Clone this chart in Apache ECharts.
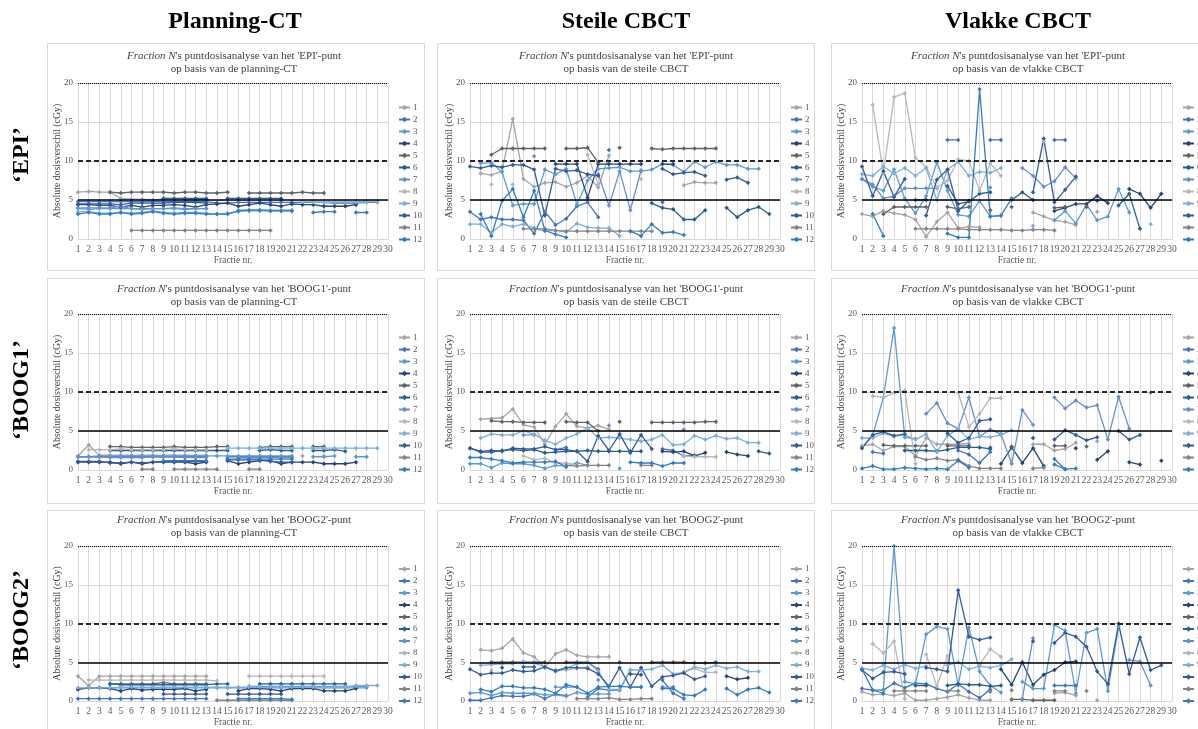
<!DOCTYPE html>
<html><head><meta charset="utf-8">
<script src="https://cdn.jsdelivr.net/npm/echarts@6/dist/echarts.min.js"></script>
<style>html,body{margin:0;padding:0;background:#fff;overflow:hidden}#c{width:1198px;height:729px}</style>
</head><body><div id="c"></div><script>
const _ = null;
const fractions = ['1','2','3','4','5','6','7','8','9','10','11','12','13','14','15','16','17','18','19','20','21','22','23','24','25','26','27','28','29','30'];
const seriesNames = ['1','2','3','4','5','6','7','8','9','10','11','12'];
const refLines = [5, 10, 20];
const columnTitles = ['Planning-CT', 'Steile CBCT', 'Vlakke CBCT'];
const rowTitles = ['\u2018EPI\u2019', '\u2018BOOG1\u2019', '\u2018BOOG2\u2019'];
const pointNames = ["'EPI'", "'BOOG1'", "'BOOG2'"];
const basisNames = ['planning-CT', 'steile CBCT', 'vlakke CBCT'];

const EPI_PLAN = [
 [6.0,6.1,6.0,6.0,5.2, 5.1,5.1,5.0,5.1,5.1, 5.1,5.0,5.1,_,_, _,_,_,_,_, _,_,_,_,_, _,_,_,_,_],
 [4.8,4.8,4.8,4.8,4.8, 4.8,4.8,4.8,4.8,4.8, 4.8,4.8,4.8,4.6,4.6, 4.7,4.7,4.7,4.7,4.7, 4.7,4.7,4.7,4.7,4.6, 4.6,4.6,4.7,4.7,_],
 [3.9,3.8,3.9,3.9,3.9, 3.9,3.8,3.9,3.9,3.9, 3.8,3.9,3.9,_,_, 3.7,3.7,3.7,3.7,3.7, 3.7,_,_,_,_, _,_,_,_,_],
 [4.4,4.4,4.3,4.3,4.1, 4.3,4.1,4.3,4.3,4.4, 4.3,4.1,4.4,4.5,4.6, 4.2,4.4,4.6,4.4,4.2, 4.5,4.4,4.4,4.2,4.2, 4.2,4.4,_,_,_],
 [_,_,_,6.0,5.9, 6.0,6.0,6.0,6.0,5.9, 6.0,6.0,5.9,5.9,6.0, _,5.9,5.9,5.9,5.9, 5.9,6.0,5.9,5.9,_, _,_,_,_,_],
 [_,_,_,_,_, _,_,_,5.2,5.2, 5.2,5.2,5.2,_,5.2, 5.2,5.2,5.2,5.2,5.2, _,_,_,_,_, _,_,_,_,_],
 [4.0,4.0,4.0,4.0,4.2, 3.9,3.9,3.9,3.9,4.0, 3.9,3.9,3.9,_,_, _,_,_,_,_, _,_,_,_,_, _,_,_,_,_],
 [_,_,_,_,_, _,_,_,_,_, _,_,_,_,_, _,_,_,_,_, _,4.8,4.8,4.8,4.8, 4.8,4.8,4.8,4.8,_],
 [3.5,3.5,3.3,3.3,3.4, 3.3,3.4,3.6,3.4,3.3, 3.4,3.4,3.3,3.2,3.3, 3.5,3.6,3.6,3.6,3.6, 3.6,_,4.7,4.7,4.7, 4.7,4.7,4.8,4.8,_],
 [4.5,4.5,4.5,4.5,4.4, 4.6,4.6,4.6,4.6,4.7, 4.7,4.7,4.6,_,_, _,_,_,_,_, _,_,_,_,_, _,_,_,_,_],
 [_,_,_,_,_, 1.1,1.1,1.1,1.1,1.1, 1.1,1.1,1.1,1.1,1.1, 1.1,1.1,1.1,1.1,_, _,_,_,_,_, _,_,_,_,_],
 [3.2,3.4,3.2,3.2,3.4, 3.2,3.3,3.5,3.3,3.2, 3.3,3.3,3.2,3.2,3.2, 3.6,3.7,3.7,3.6,3.6, 3.6,_,3.4,3.5,3.5, _,3.4,3.4,_,_]
];
const EPI_STEIL = [
 [_,8.4,8.2,8.7,15.4, 7.7,6.7,7.2,7.3,6.7, 7.2,8.1,6.6,10.7,_, _,_,_,_,_, 6.9,7.3,7.2,7.2,_, _,_,_,_,_],
 [3.5,2.5,2.8,2.5,2.5, 2.4,0.7,3.5,1.8,2.6, 4.2,4.7,2.8,_,_, _,_,_,4.7,_, _,_,_,_,_, _,_,_,_,_],
 [_,9.7,9.8,8.6,4.3, 4.5,4.5,8.9,8.3,9.0, 4.4,7.5,9.0,9.1,9.2, 8.7,8.7,8.9,9.6,9.5, 8.6,9.9,9.2,9.9,9.5, 9.5,9.0,9.0,_,_],
 [_,_,_,_,_, _,_,_,9.6,9.6, 9.6,5.3,9.6,9.6,9.6, 9.6,9.6,_,9.6,9.6, _,_,_,_,_, _,_,_,_,_],
 [_,_,10.8,11.6,11.6, 11.6,11.6,11.6,_,11.6, 11.6,11.7,9.8,_,11.7, _,_,11.6,11.5,11.6, 11.6,11.6,11.6,11.6,_, _,_,_,_,_],
 [_,_,_,_,_, _,_,_,_,_, _,_,_,_,_, _,_,4.6,4.0,3.8, 2.5,2.5,3.7,_,4.0, 2.8,3.7,4.1,3.2,_],
 [_,_,_,_,_, _,10.6,_,_,_, _,_,8.3,4.3,8.7, 3.7,8.8,_,_,_, _,_,_,_,_, _,_,_,_,_],
 [_,_,7.0,_,7.0, _,_,_,_,_, _,10.8,7.0,_,_, _,7.7,_,_,_, _,_,_,_,_, _,_,_,_,_],
 [1.9,1.9,0.8,1.9,1.6, 1.9,1.4,1.0,1.1,0.9, 2.0,1.5,1.4,1.4,0.4, _,_,_,_,_, _,_,_,_,_, _,_,_,_,_],
 [9.3,9.1,9.4,9.2,9.5, 9.5,8.9,3.0,9.0,8.7, 8.8,8.3,8.1,_,_, _,_,_,9.0,8.3, 8.5,8.6,8.1,_,7.6, 7.9,7.2,_,_,_],
 [_,_,_,_,_, 1.3,1.3,1.3,1.1,1.0, 1.0,1.0,1.0,1.0,1.0, 1.0,1.0,1.0,_,_, _,_,_,_,_, _,_,_,_,_],
 [_,3.2,0.4,4.9,6.4, 2.8,6.2,1.1,0.6,0.2, _,_,_,11.4,_, 1.0,0.4,1.9,0.8,0.9, 0.5,_,_,_,_, _,_,_,_,_]
];
const EPI_VLAK = [
 [3.2,2.9,3.6,3.3,3.1, 2.5,0.3,2.2,3.4,1.4, 1.6,1.5,_,_,_, _,3.4,2.9,2.4,2.2, 1.8,_,3.5,_,_, _,_,_,_,_],
 [_,_,_,_,_, _,_,_,12.7,12.7, _,_,12.7,12.7,_, _,_,_,12.7,12.7, _,_,_,_,_, _,_,_,_,_],
 [7.7,6.7,6.2,8.9,5.2, 3.3,5.5,9.8,6.2,3.1, 2.9,4.9,2.9,3.0,_, _,_,_,2.4,3.6, 2.0,4.4,2.4,2.9,6.4, 3.4,_,_,_,_],
 [_,_,_,_,_, _,_,_,_,_, _,_,_,_,_, _,_,_,3.6,4.0, 4.5,4.5,5.5,4.6,_, 6.4,5.8,4.0,5.8,_],
 [_,_,3.2,4.1,4.1, 4.1,4.1,_,4.1,3.9, 4.1,_,3.7,_,4.1, _,_,_,4.0,4.1, _,4.1,_,_,_, _,_,_,_,_],
 [_,_,_,_,_, 5.0,5.0,_,6.8,4.5, 4.8,5.8,6.0,_,5.0, 6.0,5.0,_,_,_, _,_,4.9,_,4.3, 5.8,1.3,_,_,_],
 [7.7,7.0,5.2,5.5,6.5, 6.5,6.5,6.5,_,_, _,_,6.6,_,_, 9.1,8.1,6.7,7.4,9.2, 7.8,_,_,_,_, _,_,_,_,_],
 [_,17.2,8.5,18.2,18.7, 10.4,9.2,6.6,7.5,10.2, 10.0,6.2,9.7,8.1,_, _,_,12.5,_,_, _,_,_,_,_, _,_,_,_,_],
 [8.3,8.1,9.3,8.4,9.1, 8.1,9.1,5.0,8.9,9.9, 8.1,8.6,8.5,9.1,_, _,1.7,_,_,_, _,_,_,_,_, _,_,1.9,_,_],
 [9.3,5.5,8.7,5.4,7.7, _,3.0,7.6,8.9,3.6, 4.9,_,_,_,_, _,6.0,12.9,4.7,6.3, 8.0,_,_,_,_, _,_,_,_,_],
 [_,_,_,_,_, 1.3,1.3,1.3,1.3,1.3, 1.2,1.2,1.2,1.2,1.1, 1.1,1.2,1.2,1.1,_, _,_,_,_,_, _,_,_,_,_],
 [_,3.2,0.4,_,_, _,_,_,0.7,0.2, 0.2,19.2,2.9,3.0,5.2, _,_,_,_,_, _,_,_,_,_, _,_,_,_,_]
];
const BOOG1_PLAN = [
 [1.8,3.2,1.9,1.9,1.9, 1.9,1.9,1.9,1.9,1.9, 1.9,1.9,1.9,_,_, _,_,_,_,_, _,1.8,_,1.8,_, _,_,_,_,_],
 [1.7,1.7,1.7,1.7,1.7, 1.7,1.7,1.7,1.7,1.7, 1.7,1.7,1.7,_,1.7, 1.7,1.7,1.7,1.7,1.7, 1.7,_,_,_,_, _,_,_,_,_],
 [1.7,1.7,1.8,1.8,1.8, 1.8,1.8,1.8,1.8,1.8, 1.8,1.8,1.8,1.8,1.8, 1.8,1.8,1.8,1.8,1.8, 1.8,_,1.7,1.7,1.8, _,1.7,1.7,_,_],
 [1.0,1.0,1.0,1.0,0.8, 1.0,0.8,1.0,1.0,1.0, 1.0,0.8,1.0,_,1.2, 0.8,1.0,1.2,1.2,0.8, 1.0,1.0,1.0,0.8,0.8, 0.8,1.0,_,_,_],
 [_,_,_,3.0,3.0, 2.9,2.9,2.9,2.9,3.0, 2.9,2.9,2.9,3.0,3.0, _,_,2.9,3.0,3.0, 3.0,_,3.0,3.0,_, _,_,_,_,_],
 [_,_,_,2.5,2.5, 2.5,2.5,2.5,2.5,2.5, 2.5,2.5,2.5,2.5,2.5, _,_,2.5,2.6,2.5, 2.5,_,2.5,2.5,2.6, 2.4,_,_,_,_],
 [1.7,1.7,1.7,1.6,1.6, 1.6,1.6,1.7,1.7,1.7, 1.6,1.6,1.6,_,_, 1.6,1.6,1.6,1.6,1.6, 1.6,_,_,_,_, _,_,_,_,_],
 [_,2.6,2.6,2.6,2.7, 2.6,2.6,2.6,2.6,2.7, 2.6,2.6,2.6,_,_, _,_,_,_,_, _,2.8,_,_,_, _,_,_,_,_],
 [_,_,_,_,_, _,_,_,_,_, _,_,_,_,2.8, 2.8,2.8,2.8,2.8,2.8, 2.8,2.8,2.8,2.8,2.8, 2.8,2.8,2.8,2.8,_],
 [1.1,1.1,1.1,0.9,0.9, 1.0,0.9,1.0,1.1,1.1, 1.1,1.1,1.1,_,1.3, 1.3,1.3,1.3,1.1,1.0, 1.0,_,_,_,_, _,_,_,_,_],
 [_,_,_,_,_, _,0.1,0.1,_,0.1, 0.1,0.1,0.1,0.1,_, _,0.1,0.1,_,_, _,_,_,_,_, _,_,_,_,_],
 [_,_,_,_,_, _,_,_,1.2,1.2, 1.2,1.2,1.2,_,1.4, 1.4,1.4,1.4,1.4,1.4, 1.4,_,_,_,_, _,_,_,_,_]
];
const BOOG1_STEIL = [
 [_,6.5,6.6,6.7,7.8, 5.8,5.5,3.3,5.6,7.2, 5.6,5.4,5.7,5.2,_, _,_,_,_,_, _,_,_,_,_, _,_,_,_,_],
 [_,_,_,_,_, _,_,_,2.6,2.9, _,_,_,_,_, _,_,_,2.7,2.5, 1.8,1.9,_,_,_, _,_,_,_,_],
 [0.8,0.8,0.3,0.9,0.8, 0.8,0.6,0.2,0.6,0.5, 0.9,0.6,_,_,0.2, _,_,_,_,_, _,_,_,_,_, _,_,_,_,_],
 [_,_,_,_,_, _,_,_,_,_, _,_,_,_,_, _,_,_,2.4,2.3, 2.4,1.8,2.2,_,2.3, 2.0,1.8,_,_,_],
 [_,_,6.3,6.2,6.2, 6.1,6.1,6.1,_,6.2, 6.1,6.1,5.0,_,6.2, _,_,6.1,6.1,6.1, 6.1,6.1,6.2,6.2,_, _,_,_,_,_],
 [2.8,2.3,2.3,2.5,2.6, 2.5,2.6,2.2,2.3,2.4, 2.4,2.5,2.4,2.4,2.4, 2.4,2.4,_,_,_, _,_,_,_,_, _,_,2.4,2.1,_],
 [_,_,_,_,_, 4.5,4.5,_,_,_, _,_,_,5.7,_, _,_,_,_,_, 5.2,_,_,_,_, _,_,_,_,_],
 [_,_,_,_,_, 1.8,1.3,1.5,0.9,0.9, 0.6,_,_,_,_, _,_,_,_,_, 1.8,1.7,1.7,1.7,_, _,_,_,_,_],
 [_,4.1,4.6,4.5,4.5, 5.0,4.6,3.8,3.3,4.1, 4.6,5.4,4.1,4.2,4.1, 3.9,3.7,3.9,4.5,3.2, 3.3,4.4,3.9,4.4,4.0, 4.1,3.5,3.5,_,_],
 [2.8,2.4,2.5,2.4,2.8, 2.7,2.7,3.0,2.6,2.6, 2.4,1.1,4.4,2.5,4.6, 2.2,4.5,2.7,_,_, _,_,_,_,_, _,_,_,_,_],
 [_,_,_,_,_, _,_,_,_,0.6, 0.5,0.6,0.6,0.6,_, _,0.6,0.6,_,_, _,_,_,_,_, _,_,_,_,_],
 [1.6,1.6,1.4,1.2,0.9, 1.0,1.0,1.0,1.1,0.4, _,_,_,_,_, 1.0,0.9,0.9,0.5,0.9, 0.9,_,_,_,_, _,_,_,_,_]
];
const BOOG1_VLAK = [
 [3.1,3.3,2.5,3.0,3.0, 1.8,4.1,3.3,3.3,3.3, 3.4,_,_,_,_, _,3.3,3.3,2.5,2.7, 3.5,_,3.7,_,_, _,_,_,_,_],
 [_,2.3,2.1,_,_, _,_,_,_,2.5, 2.0,0.9,2.3,_,_, _,_,_,1.4,0.1, _,_,_,_,_, _,_,_,_,_],
 [2.9,4.4,9.3,18.2,4.2, 4.0,_,_,_,_, _,_,_,_,_, _,_,_,_,_, _,_,_,_,_, _,_,_,_,_],
 [_,_,_,_,_, _,_,_,_,_, _,_,_,0.8,2.9, 0.9,2.8,0.5,_,_, 2.8,_,1.3,2.4,_, 1.0,0.7,_,1.2,_],
 [_,_,3.2,3.1,3.1, 3.1,3.1,_,3.1,3.1, 3.1,_,2.9,_,3.0, _,_,_,3.1,3.1, _,3.0,_,_,_, _,_,_,_,_],
 [_,_,_,_,2.5, 2.5,2.5,2.4,2.6,2.9, 2.9,2.9,2.7,_,_, _,_,_,_,_, _,_,_,_,_, _,_,_,_,_],
 [_,_,_,_,_, _,7.2,8.6,6.0,5.3, 9.3,4.3,5.2,4.6,0.8, 7.7,5.8,_,9.3,7.9, 8.9,8.0,8.3,3.9,9.4, 5.3,_,9.9,_,_],
 [_,9.5,9.3,9.9,10.2, 0.8,_,_,_,9.9, 5.5,7.2,9.2,9.2,_, _,_,_,_,_, _,_,_,_,_, _,_,_,_,_],
 [4.1,4.1,4.7,4.3,4.5, 3.9,4.6,2.3,4.4,5.3, 3.9,4.3,4.2,4.5,5.1, _,_,_,_,_, _,_,_,_,_, _,_,_,_,_],
 [2.8,4.5,4.9,4.4,4.6, _,_,_,4.7,3.5, 4.1,6.3,6.5,_,_, _,4.1,_,3.9,5.1, 4.5,3.8,4.2,_,5.0, 3.9,4.5,_,_,_],
 [_,_,_,_,_, 1.7,1.3,1.5,1.2,1.3, 0.5,0.2,0.2,0.2,_, _,0.2,0.3,_,_, _,_,_,_,_, _,_,_,_,_],
 [0.2,0.5,0.1,0.1,0.3, 0.2,0.1,0.2,0.1,1.2, 0.3,_,_,_,_, _,_,_,0.7,0.1, 0.2,_,_,_,_, _,_,_,_,_]
];
const BOOG2_PLAN = [
 [3.2,2.0,3.2,3.2,3.2, 3.2,3.2,3.2,3.2,3.2, 3.2,3.2,3.2,_,_, _,_,_,_,_, _,_,_,_,_, _,_,_,_,_],
 [0.3,0.3,0.3,0.3,0.3, 0.3,0.3,0.3,0.3,0.3, 0.3,0.3,0.3,_,_, _,_,_,_,_, _,_,_,_,_, _,_,_,_,_],
 [1.6,1.7,1.7,1.7,1.7, 1.7,1.7,1.7,1.7,1.7, 1.7,1.7,1.7,1.7,1.7, 1.7,1.7,1.7,1.7,1.7, 1.7,1.7,1.7,1.7,1.7, 1.7,1.7,1.7,_,_],
 [1.5,1.7,1.7,1.6,1.3, 1.6,1.4,1.5,1.5,1.5, 1.6,1.3,1.5,_,_, 1.3,1.6,1.6,1.5,1.3, 1.6,1.6,1.6,1.3,1.3, 1.3,1.6,_,_,_],
 [_,_,_,2.2,2.2, 2.2,2.2,2.2,2.4,2.2, 2.2,2.2,2.2,_,_, _,_,_,_,_, _,_,_,_,_, _,_,_,_,_],
 [_,_,_,2.2,2.1, 2.1,2.1,2.1,2.1,2.1, 2.1,2.1,2.1,2.2,2.2, _,_,2.2,2.2,2.2, 2.2,2.2,2.2,2.2,2.2, 2.2,_,_,_,_],
 [_,_,_,_,_, _,_,_,_,_, _,_,_,_,_, _,1.9,1.9,1.9,1.9, 1.9,1.9,1.9,1.9,1.9, 1.9,1.9,1.9,_,_],
 [_,2.7,2.7,2.7,2.7, 2.7,2.7,2.7,2.7,2.7, 2.7,2.7,2.7,2.6,_, _,3.2,3.2,3.2,3.2, 3.2,3.2,3.2,3.2,_, _,_,_,_,_],
 [1.7,1.7,1.7,1.7,1.8, 1.8,1.8,1.8,1.8,1.8, 1.8,1.8,1.8,1.8,1.8, 1.8,1.8,1.8,1.8,1.8, 1.8,1.8,1.8,1.8,1.8, 1.8,2.0,2.0,2.0,_],
 [_,_,_,_,_, _,_,_,0.9,0.9, 0.9,0.9,0.9,_,0.9, 0.9,0.9,0.9,0.9,0.9, _,_,_,_,_, _,_,_,_,_],
 [_,_,_,_,_, _,_,_,_,_, _,_,_,0.1,0.1, 0.1,0.1,0.1,0.1,0.1, 0.1,_,_,_,_, _,_,_,_,_],
 [_,_,_,_,_, _,_,_,_,_, _,_,_,_,_, 0.3,0.3,0.3,0.3,0.3, 0.2,_,_,_,_, _,_,_,_,_]
];
const BOOG2_STEIL = [
 [_,6.6,6.5,6.8,8.0, 6.2,5.7,4.3,6.1,6.6, 5.9,5.7,5.7,5.7,_, _,_,_,_,_, _,_,_,_,_, _,_,_,_,_],
 [0.1,0.1,0.4,0.7,0.6, 0.6,0.9,0.3,0.9,0.7, _,0.5,1.6,1.4,1.4, 4.0,_,_,2.7,1.0, 0.3,_,_,_,_, _,_,_,_,_],
 [1.0,1.1,0.7,1.1,1.0, 1.0,1.0,0.8,0.8,0.6, 1.1,0.9,0.9,0.9,_, _,_,_,_,_, _,_,_,_,_, _,_,_,_,_],
 [_,_,_,_,_, _,_,_,_,_, _,_,_,_,_, _,_,_,_,_, _,_,_,_,3.2, 2.8,3.0,_,_,_],
 [_,_,5.0,5.0,5.0, 5.0,5.0,5.0,_,5.0, 5.0,5.0,4.1,_,5.0, _,_,5.0,5.0,5.0, 5.0,4.9,4.9,5.0,_, _,_,_,_,_],
 [_,_,_,4.3,_, 4.4,4.4,_,_,_, _,_,_,_,_, 3.5,3.4,_,_,_, _,_,_,_,_, _,_,_,_,_],
 [_,_,_,_,_, _,_,_,1.8,1.8, 1.8,_,2.7,_,_, 1.8,1.8,_,1.8,1.8, _,_,_,_,_, _,_,_,_,_],
 [_,_,4.0,_,_, _,_,_,4.0,4.0, 4.2,4.4,_,_,_, _,_,_,_,_, 3.7,4.2,3.7,3.7,_, _,_,_,_,_],
 [_,4.6,4.7,4.8,4.8, 5.1,4.9,4.4,3.8,4.2, 4.8,5.0,3.9,1.5,1.5, 4.0,4.0,4.1,4.6,3.5, 3.7,4.4,4.1,4.6,4.2, 4.4,3.8,3.8,_,_],
 [4.1,3.4,3.6,3.6,4.0, 3.8,3.9,4.4,3.9,4.3, 4.3,4.2,3.5,1.9,4.3, 1.8,4.3,1.9,3.1,3.3, 3.6,2.8,3.2,_,_, _,_,_,_,_],
 [_,_,_,_,_, _,_,_,_,_, 0.3,0.3,0.3,0.4,0.2, 0.2,0.3,0.3,_,_, _,_,_,_,_, _,_,_,_,_],
 [_,1.5,1.2,1.9,1.9, 1.7,1.7,1.5,1.0,2.1, 1.8,1.0,1.8,1.9,1.9, 1.8,1.8,_,1.6,1.6, 0.8,0.7,1.5,_,1.6, 0.8,1.5,1.7,1.1,_]
];
const BOOG2_VLAK = [
 [1.2,0.8,0.9,0.7,1.0, 0.1,0.1,0.3,0.5,0.8, 0.4,0.1,0.1,_,_, _,_,_,1.0,1.1, 0.7,_,0.1,_,_, _,_,_,_,_],
 [1.6,1.4,1.4,2.3,1.7, 2.3,2.2,1.6,1.2,2.2, 1.2,0.4,1.5,_,_, _,_,_,2.0,2.0, 2.0,_,_,_,_, _,_,_,_,_],
 [_,_,1.5,20.0,2.5, 2.2,8.6,9.6,9.3,2.0, 9.5,3.8,2.0,1.1,_, 2.5,1.6,1.6,9.8,9.1, 1.0,8.8,9.3,1.3,9.6, _,_,_,_,_],
 [_,_,_,_,_, _,_,_,_,_, _,_,_,4.1,2.1, 5.0,2.1,3.4,4.0,5.0, 5.1,_,_,_,_, _,_,_,_,_],
 [_,_,_,_,_, _,_,_,_,_, _,_,_,_,0.2, 0.2,0.1,0.1,0.1,_, _,_,_,_,_, _,_,_,_,_],
 [_,_,_,_,_, 2.0,2.0,_,2.0,2.2, 2.1,2.1,1.9,2.0,_, _,_,_,_,_, _,_,_,_,_, _,_,_,_,_],
 [_,_,_,_,_, _,_,_,_,_, _,_,_,_,_, 0.3,8.1,_,_,_, _,_,_,_,_, 5.3,5.1,2.0,_,_],
 [_,7.4,6.2,7.7,0.3, _,6.0,1.9,5.8,_, _,4.7,6.7,5.7,_, _,_,_,_,_, _,_,_,_,_, _,_,_,_,_],
 [4.2,4.0,4.6,4.1,4.7, 4.2,4.5,_,4.6,5.0, 4.1,4.5,4.3,4.6,5.4, _,_,_,_,_, _,_,_,_,_, _,_,_,_,_],
 [4.0,2.9,3.7,3.8,3.5, _,4.3,4.1,3.8,14.3, 8.3,7.9,8.2,_,_, _,7.7,_,7.5,8.8, 8.3,7.0,3.8,2.2,10.0, 3.5,8.2,4.0,4.6,_],
 [_,_,_,1.3,1.3, 1.3,1.3,_,1.3,1.3, _,_,1.2,_,1.4, _,_,_,1.3,1.3, _,1.3,_,_,_, _,_,_,_,_],
 [4.1,1.4,1.0,_,_, _,_,_,_,_, _,_,_,_,_, _,_,_,_,_, _,_,_,_,_, _,_,_,_,_]
];

const PANELS = [EPI_PLAN, EPI_STEIL, EPI_VLAK, BOOG1_PLAN, BOOG1_STEIL, BOOG1_VLAK, BOOG2_PLAN, BOOG2_STEIL, BOOG2_VLAK];
const palette = ['#A5A5A5','#4472C4','#5B9BD5','#264478','#636363','#255E91','#698ED0','#B7B7B7','#7CAFDD','#335AA1','#848484','#327DC2'];
const FONT = '"Liberation Serif", "Times New Roman", serif';

// layout
const boxX = [47, 437, 831];
const boxW = 377;
const boxY = [43, 278, 510];
const boxH = [227, 225, 240];
const plotX = [78, 470, 862];
const plotW = 310;
const plotY = [83, 314, 546];
const plotH = [156, 156, 155];
const titleTop = [50, 283, 514];
const legendTop = [103, 333, 564.5];

const chart = echarts.init(document.getElementById('c'), null, {renderer: 'canvas'});
const grids = [], xAxes = [], yAxes = [], series = [], titles = [], legends = [], graphics = [];

for (let r = 0; r < 3; r++) {
  for (let c = 0; c < 3; c++) {
    const p = r * 3 + c;
    grids.push({left: plotX[c], top: plotY[r], width: plotW, height: plotH[r], containLabel: false});
    xAxes.push({
      type: 'category', gridIndex: p, data: fractions, boundaryGap: false,
      axisLine: {show: true, lineStyle: {color: '#d9d9d9'}},
      axisTick: {show: false},
      axisLabel: {interval: 0, fontSize: 9.5, color: '#595959', fontFamily: FONT, margin: 5},
      splitLine: {show: true, lineStyle: {color: '#d9d9d9', width: 1}},
      name: 'Fractie nr.', nameLocation: 'middle', nameGap: 16,
      nameTextStyle: {fontSize: 9.5, color: '#595959', fontFamily: FONT}
    });
    yAxes.push({
      type: 'value', gridIndex: p, min: 0, max: 20, interval: 5,
      axisLine: {show: false}, axisTick: {show: false},
      axisLabel: {fontSize: 9, color: '#595959', fontFamily: FONT, margin: 5},
      splitLine: {show: true, lineStyle: {color: '#d9d9d9', width: 1}},
      name: 'Absolute dosisverschil (cGy)', nameLocation: 'middle', nameGap: 16, nameMoveOverlap: false,
      nameTextStyle: {fontSize: 9.8, color: '#404040', fontFamily: FONT}
    });
    titles.push({
      left: plotX[c] + plotW / 2 + 1, top: titleTop[r], textAlign: 'center', padding: 0,
      text: '{i|Fraction N}{n|\'s puntdosisanalyse van het ' + pointNames[r] + '-punt}\n{n|op basis van de ' + basisNames[c] + '}',
      textStyle: {
        fontFamily: FONT, fontSize: 11, fontWeight: 'normal', color: '#404040', lineHeight: 13,
        rich: {
          i: {fontStyle: 'italic', fontWeight: 'normal', fontFamily: FONT, fontSize: 11, color: '#404040', lineHeight: 13},
          n: {fontWeight: 'normal', fontFamily: FONT, fontSize: 11, color: '#404040', lineHeight: 13}
        }
      }
    });
    legends.push({
      orient: 'vertical', left: plotX[c] + 320, top: legendTop[r], padding: 0,
      itemWidth: 11, itemHeight: 7, itemGap: 3, selectedMode: false,
      data: seriesNames,
      textStyle: {fontSize: 9, color: '#595959', fontFamily: FONT, padding: [0, 0, 0, -2]}
    });
    PANELS[p].forEach((vals, k) => {
      const s = {
        type: 'line', name: seriesNames[k], xAxisIndex: p, yAxisIndex: p,
        data: vals, color: palette[k], connectNulls: false,
        symbol: 'diamond', symbolSize: 4.5, showSymbol: true, showAllSymbol: true,
        lineStyle: {width: 1.3, color: palette[k]},
        itemStyle: {color: palette[k]},
        emphasis: {disabled: true}, animation: false, z: 3
      };
      if (k === 0) {
        s.markLine = {
          silent: true, symbol: ['none', 'none'], animation: false, label: {show: false},
          data: [
            {yAxis: refLines[2], lineStyle: {type: 'dotted', width: 1, color: '#000'}},
            {yAxis: refLines[1], lineStyle: {type: [5, 3], width: 2, color: '#262626'}},
            {yAxis: refLines[0], lineStyle: {type: 'solid', width: 1.5, color: '#000'}}
          ]
        };
      }
      series.push(s);
    });
    graphics.push({
      type: 'rect', silent: true, z: -1,
      shape: {x: boxX[c] + 0.5, y: boxY[r] + 0.5, width: boxW, height: boxH[r]},
      style: {fill: 'none', stroke: '#d9d9d9', lineWidth: 1}
    });
  }
}
const headerX = [235, 626, 1018];
columnTitles.forEach((t, c) => {
  graphics.push({type: 'text', x: headerX[c], y: 22, silent: true,
    style: {text: t, fill: '#000', font: 'bold 24px ' + FONT, align: 'center', verticalAlign: 'middle'}});
});
const rowLabelY = [155, 390, 620];
rowTitles.forEach((t, r) => {
  graphics.push({type: 'text', x: 22, y: rowLabelY[r], rotation: Math.PI / 2, silent: true,
    style: {text: t, fill: '#000', font: 'bold 24px ' + FONT, align: 'center', verticalAlign: 'middle'}});
});

chart.setOption({
  animation: false,
  backgroundColor: '#fff',
  title: titles, grid: grids, xAxis: xAxes, yAxis: yAxes, legend: legends,
  series: series, graphic: graphics
});
</script></body></html>
